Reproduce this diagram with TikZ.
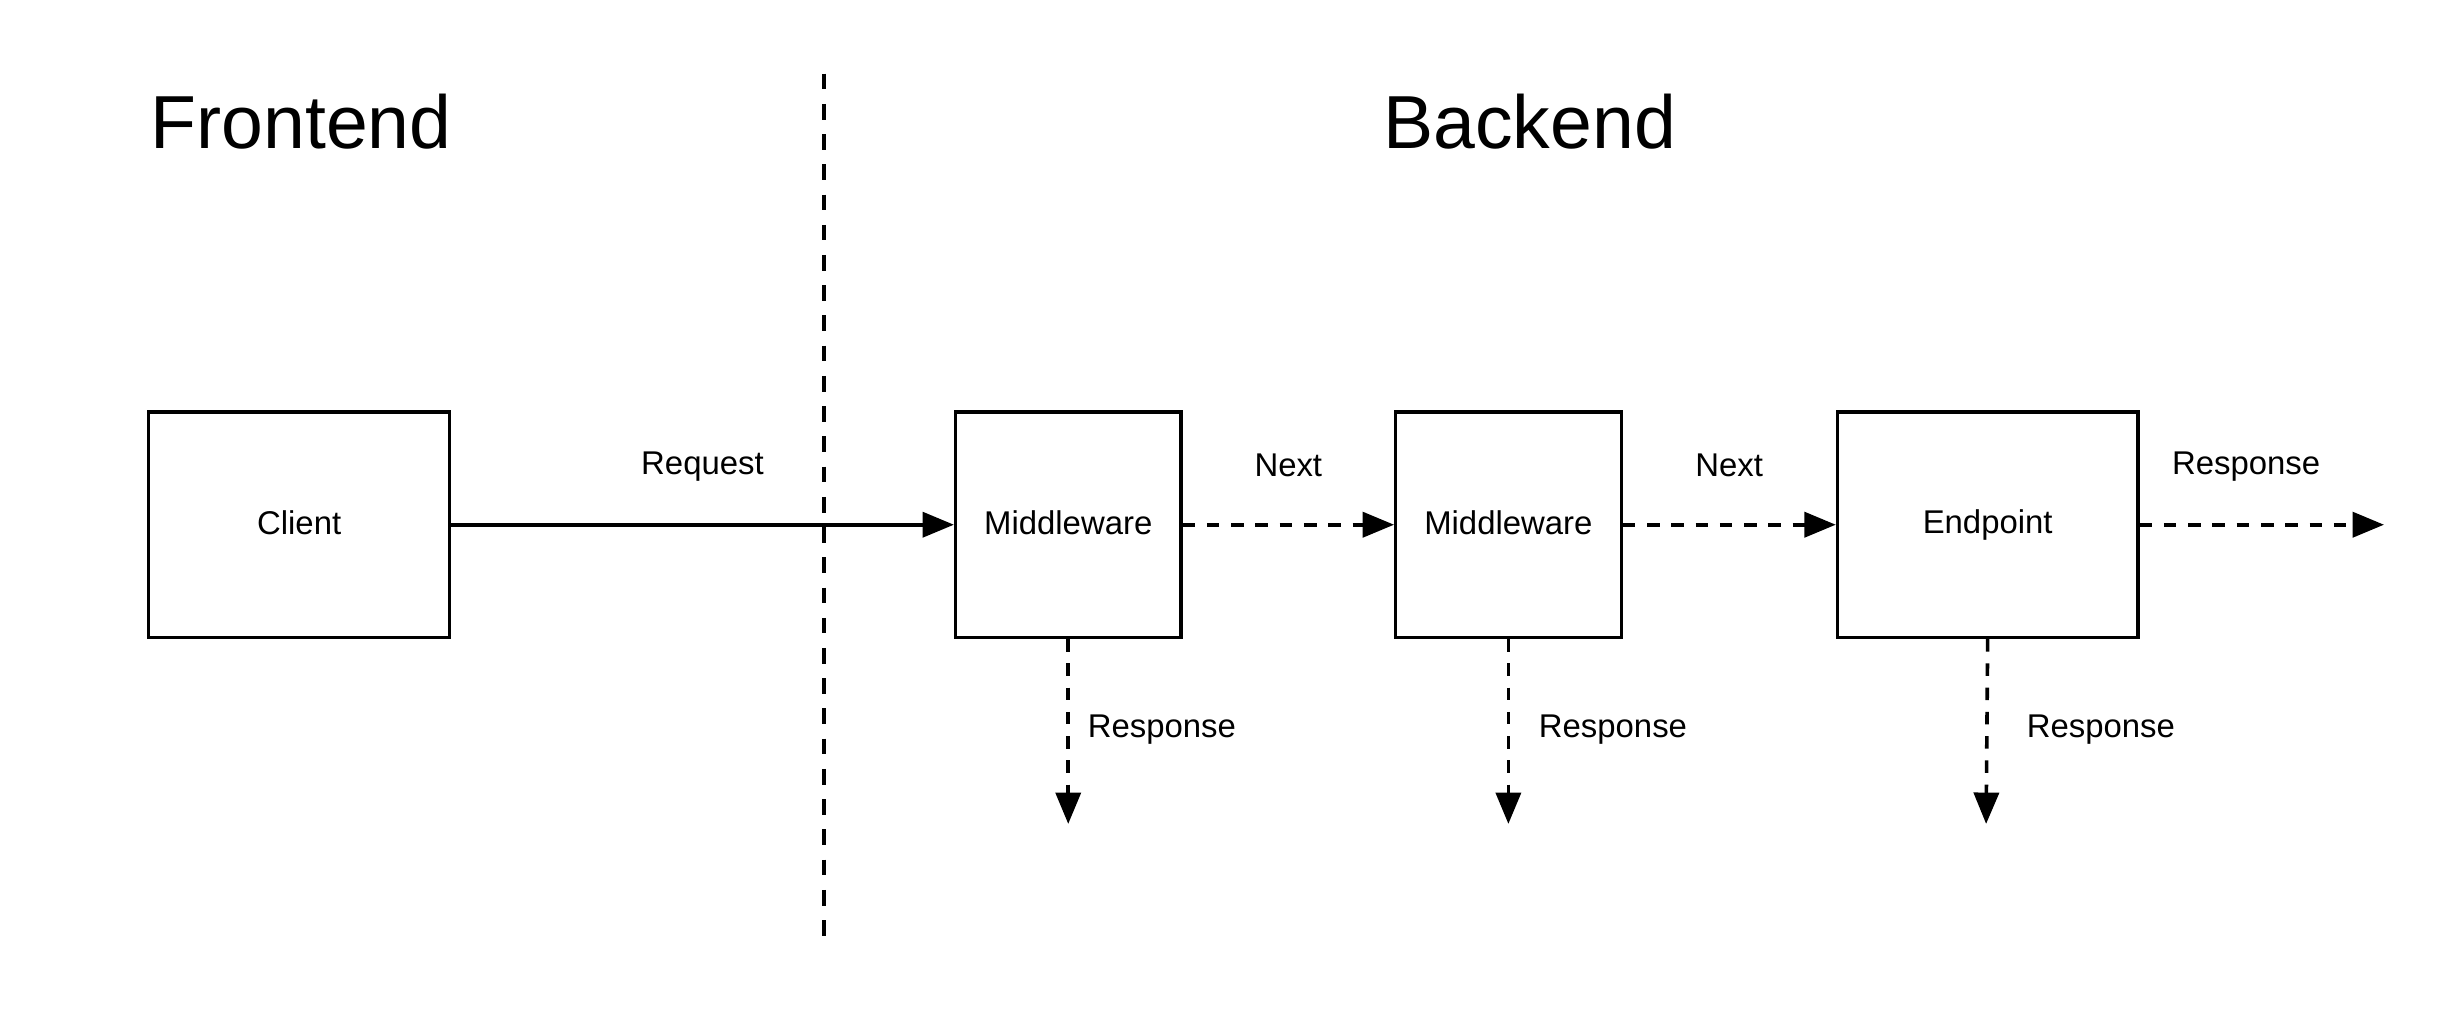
\documentclass[tikz,border=0pt]{standalone}
\usepackage{fontspec}
\setmainfont{Liberation Sans}
\usetikzlibrary{arrows.meta,positioning,calc}

\begin{document}
\begin{tikzpicture}[x=1pt, y=-1pt,
                    block/.style={draw, line width=2pt, inner sep=0pt, font=\fontsize{21}{25}\selectfont},
                    flow/.style={line width=2.3pt, -{Triangle[length=20pt,width=16pt]}},
                    nextflow/.style={flow, dash pattern=on 8pt off 7.5pt},
                    lbl/.style={font=\fontsize{21}{25}\selectfont},
                    title/.style={font=\fontsize{48}{56}\selectfont, inner sep=0pt, anchor=base west}]
                    \useasboundingbox (0,0) rectangle (1568,647);
                    \node[title] (Front) at (96,95) {Frontend};
                    \node[title] (Back) at (883,95) {Backend};
                    \coordinate (DivTop) at (526,47);
                    \coordinate (DivBot) at (526,598);
                    \draw[line width=2.3pt, dash pattern=on 10pt off 9.3pt] (DivTop) -- (DivBot);
                    \node[block, minimum width=192, minimum height=144, text depth=0pt, yshift=0pt] (Client) at (191,335) {\raisebox{3pt}{Client}};
                    \node[block, minimum width=144, minimum height=144] (MW1) at (682,335) {\raisebox{3pt}{Middleware}};
                    \node[block, minimum width=144, minimum height=144] (MW2) at (963,335) {\raisebox{3pt}{Middleware}};
                    \node[block, minimum width=192, minimum height=144] (End) at (1269,335) {\raisebox{2pt}{Endpoint}};
                    \draw[flow] (Client.east) -- (MW1.west) node[lbl, midway, yshift=37pt] {Request};
                    \draw[nextflow] (MW1.east) -- (MW2.west) node[lbl, midway, yshift=38pt] {Next};
                    \draw[nextflow] (MW2.east) -- (End.west) node[lbl, midway, yshift=38pt] {Next};
                    \coordinate (OutR) at (1522,335);
                    \draw[nextflow] (End.east) -- (OutR) node[lbl, midway, xshift=-10pt, yshift=37pt] {Response};
                    \coordinate (Out1) at (682,526);
                    \coordinate (Out2) at (963,526);
                    \coordinate (Out3) at (1268,526);
                    \draw[nextflow] (MW1.south) -- (Out1) node[lbl, midway, right=8pt, yshift=1pt] {Response};
                    \draw[nextflow] (MW2.south) -- (Out2) node[lbl, midway, right=15pt, yshift=1pt] {Response};
                    \draw[nextflow] (End.south) -- (Out3) node[lbl, midway, right=21pt, yshift=1pt] {Response};
                \end{tikzpicture}
\end{document}
